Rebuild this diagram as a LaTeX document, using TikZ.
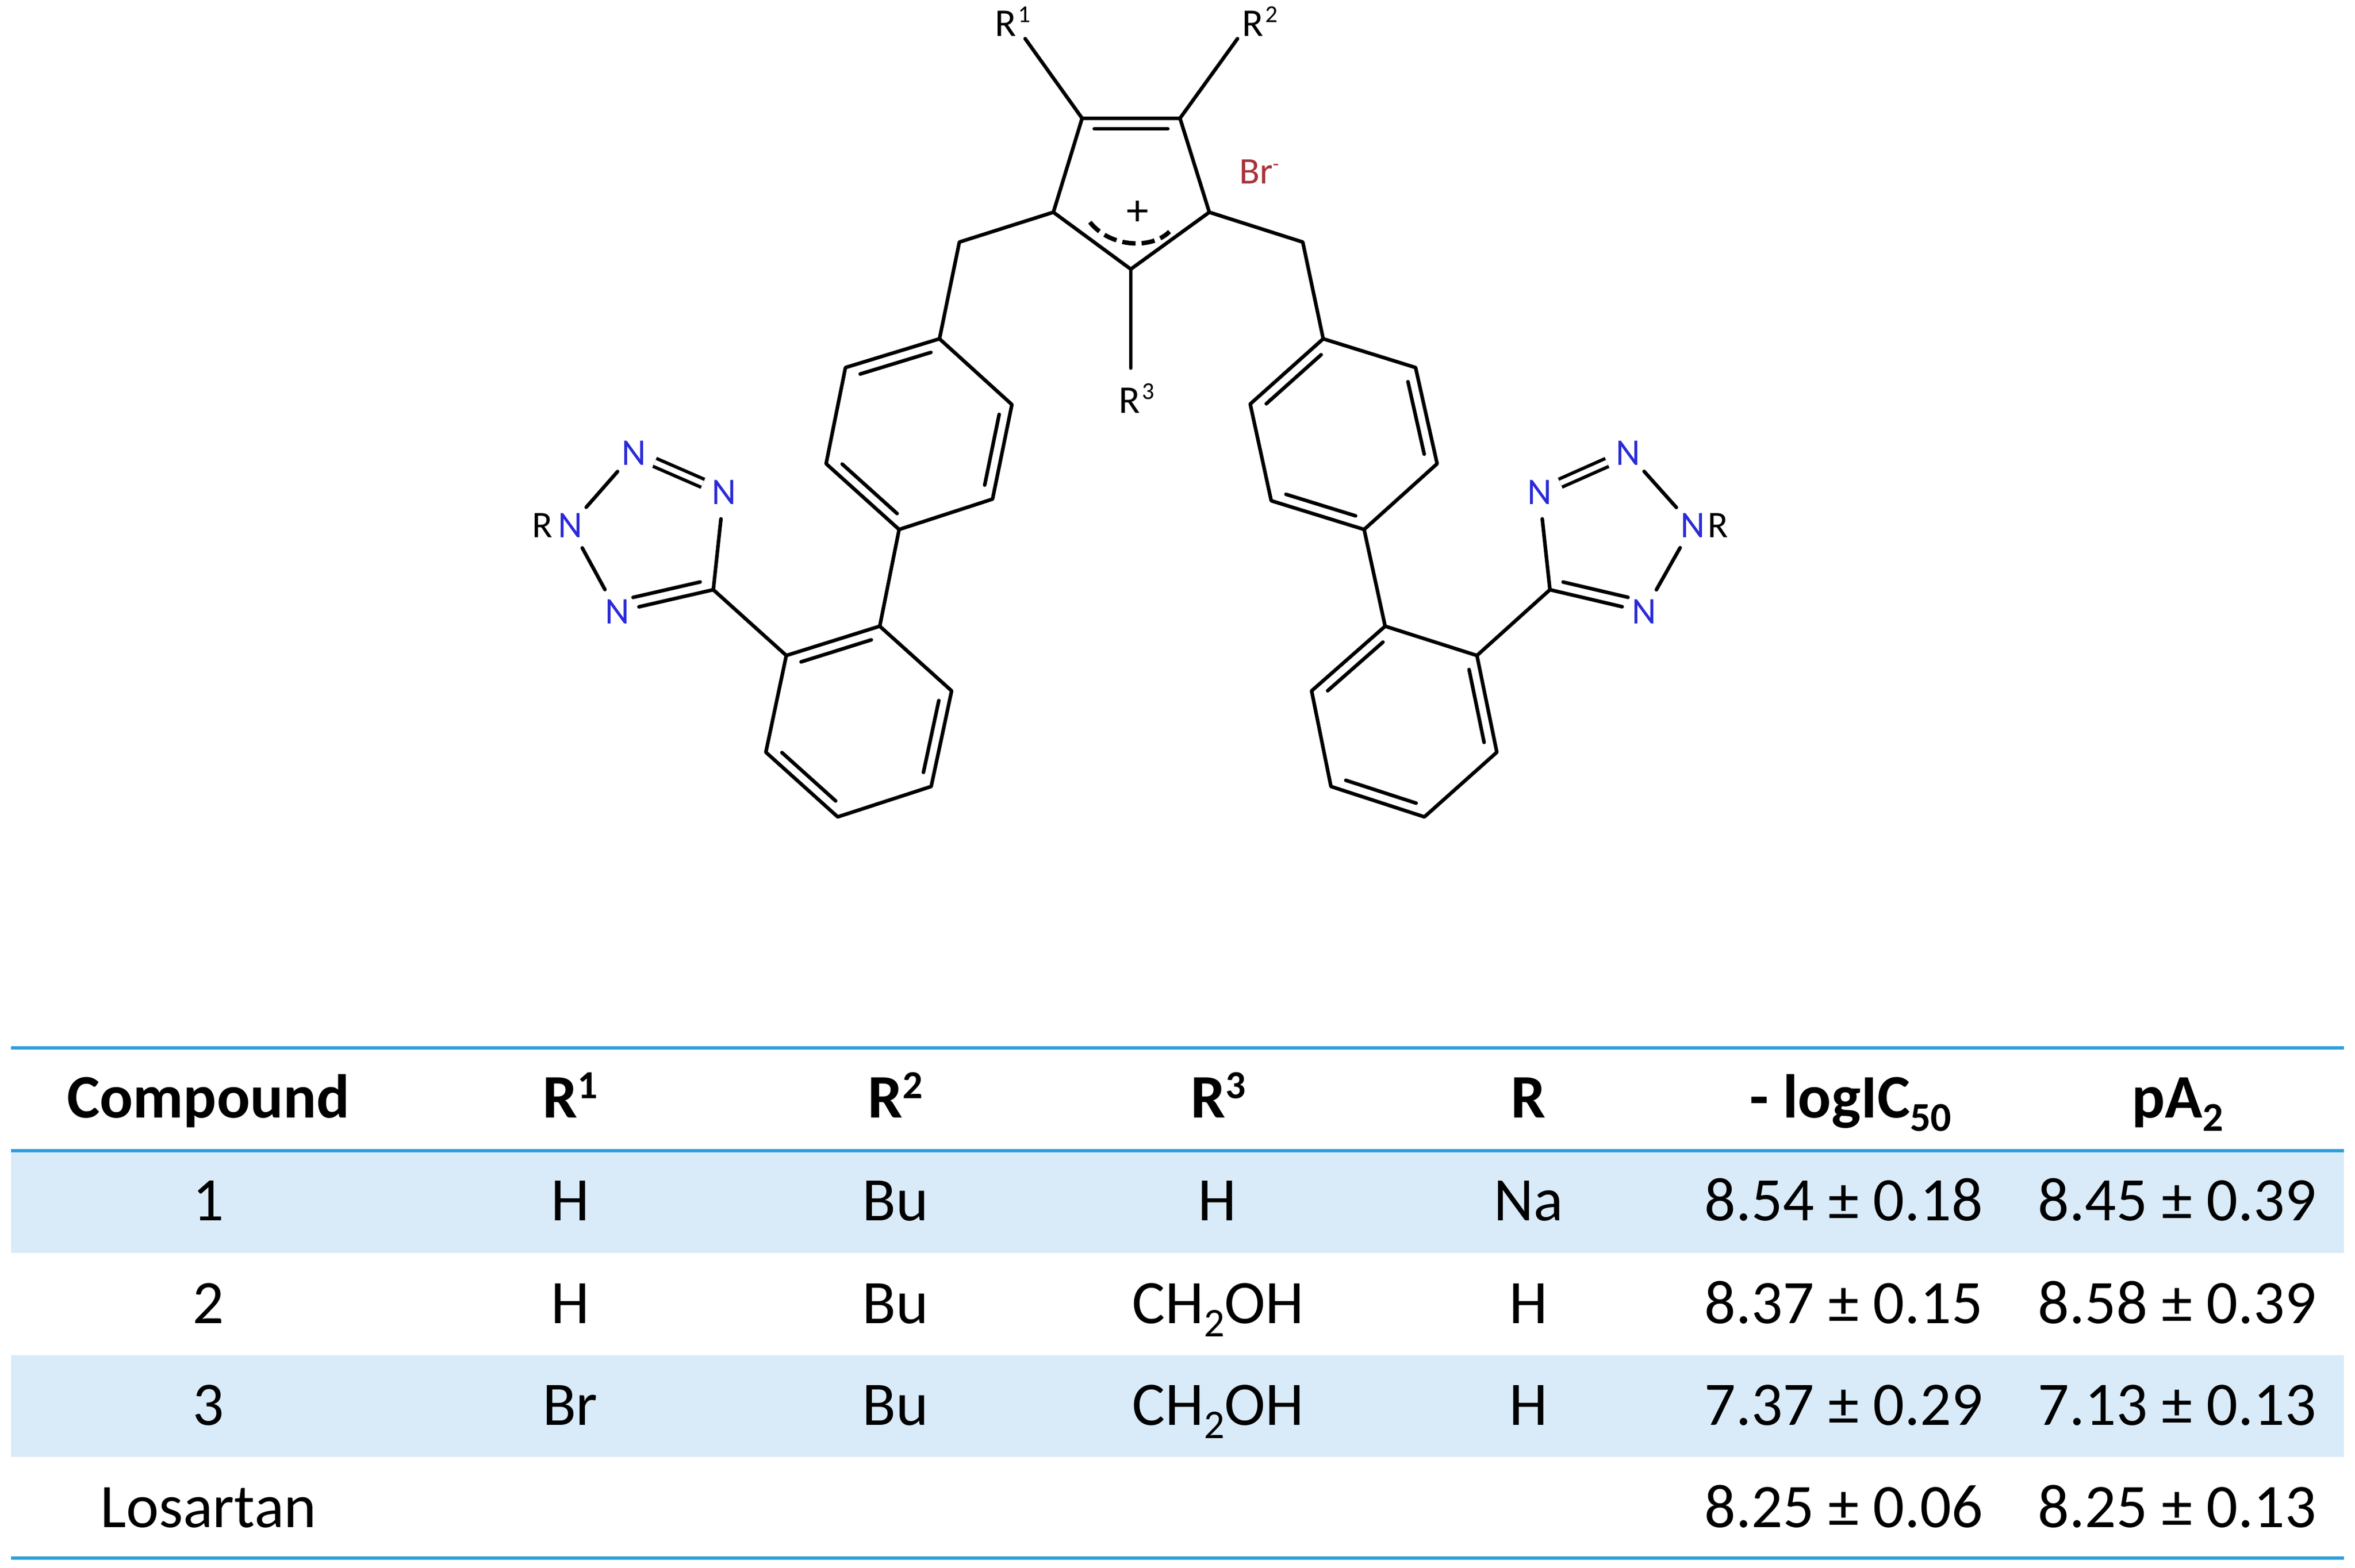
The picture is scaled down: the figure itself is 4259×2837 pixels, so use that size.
\documentclass[tikz,border=0pt]{standalone}
\usepackage{fontspec}
\usepackage{xcolor}
\usetikzlibrary{calc,shapes.geometric}
\setmainfont{Carlito}
\definecolor{ruleblue}{HTML}{2E9FDC}
\definecolor{rowblue}{HTML}{D9EBF9}
\definecolor{nitrogen}{HTML}{2A2AD8}
\definecolor{bromide}{HTML}{A8333A}

\newcommand\chemsup[1]{\kern4pt\raisebox{25pt}{\fontsize{44}{46}\selectfont #1}}
\newcommand\headsup[1]{\raisebox{35pt}{\fontsize{72}{74}\selectfont #1}}
\newcommand\lowidx[1]{\raisebox{-24pt}{\fontsize{74}{76}\selectfont #1}}
% inner line of a double bond, on the left of the way a -> b
\newcommand\innerbond[3][]{\draw[innerline,#1] ($(#2)!19pt!90:(#3)$) -- ($(#3)!19pt!-90:(#2)$);}

\begin{document}
\begin{tikzpicture}[x=1pt,y=-1pt,node distance=48pt,
    bond/.style={line width=6.5pt,line cap=round,line join=round},
    innerline/.style={bond,shorten <=22pt,shorten >=22pt},
    twobond/.style={line width=6pt,double,double distance=9.5pt},
    natom/.style={ellipse,inner sep=0pt,minimum width=80pt,minimum height=96pt,text=nitrogen,font=\fontsize{68}{70}\selectfont},
    rgroup/.style={inner sep=0pt,anchor=base west,font=\fontsize{71}{73}\selectfont},
    rsub/.style={inner sep=0pt,font=\fontsize{68}{70}\selectfont},
    cell/.style={anchor=base,inner sep=0pt,font=\fontsize{112}{120}\selectfont},
    head/.style={cell,font=\fontsize{112}{120}\selectfont\bfseries},
    tabrule/.style={ruleblue,line width=5.5pt},
    shade/.style={fill=rowblue}]

    \useasboundingbox (0,0) rectangle (4259,2837);

    % table
    \coordinate (s1a) at (20,2081);
    \coordinate (s1b) at (4239,2267);
    \coordinate (s3a) at (20,2452);
    \coordinate (s3b) at (4239,2636);
    \fill[shade] (s1a) rectangle (s1b);
    \fill[shade] (s3a) rectangle (s3b);

    \coordinate (t1a) at (20,1896);
    \coordinate (t1b) at (4239,1896);
    \coordinate (t2a) at (20,2082);
    \coordinate (t2b) at (4239,2082);
    \coordinate (t3a) at (20,2819);
    \coordinate (t3b) at (4239,2819);
    \draw[tabrule] (t1a) -- (t1b);
    \draw[tabrule] (t2a) -- (t2b);
    \draw[tabrule] (t3a) -- (t3b);

    \node[head] (h1) at (377,2022) {Compound};
    \node[head] (h2) at (1031,2022) {R\headsup{1}};
    \node[head] (h3) at (1619,2022) {R\headsup{2}};
    \node[head] (h4) at (2203,2022) {R\headsup{3}};
    \node[head] (h5) at (2764,2022) {R};
    \node[head] (h6) at (3347,2022) {- logIC\lowidx{50}};
    \node[head] (h7) at (3938,2022) {pA\lowidx{2}};

    \node[cell] (a1) at (377,2208) {1};
    \node[cell] (a2) at (1031,2208) {H};
    \node[cell] (a3) at (1619,2208) {Bu};
    \node[cell] (a4) at (2201,2208) {H};
    \node[cell] (a5) at (2764,2208) {Na};
    \node[cell] (a6) at (3334,2208) {8.54 ± 0.18};
    \node[cell] (a7) at (3937,2208) {8.45 ± 0.39};

    \node[cell] (b1) at (377,2394) {2};
    \node[cell] (b2) at (1031,2394) {H};
    \node[cell] (b3) at (1619,2394) {Bu};
    \node[cell] (b4) at (2203,2394) {CH\lowidx{2}OH};
    \node[cell] (b5) at (2764,2394) {H};
    \node[cell] (b6) at (3334,2394) {8.37 ± 0.15};
    \node[cell] (b7) at (3937,2394) {8.58 ± 0.39};

    \node[cell] (c1) at (377,2578) {3};
    \node[cell] (c2) at (1031,2578) {Br};
    \node[cell] (c3) at (1619,2578) {Bu};
    \node[cell] (c4) at (2203,2578) {CH\lowidx{2}OH};
    \node[cell] (c5) at (2764,2578) {H};
    \node[cell] (c6) at (3334,2578) {7.37 ± 0.29};
    \node[cell] (c7) at (3937,2578) {7.13 ± 0.13};

    \node[cell] (d1) at (377,2763) {Losartan};
    \node[cell] (d6) at (3334,2763) {8.25 ± 0.06};
    \node[cell] (d7) at (3937,2763) {8.25 ± 0.13};

    % five-membered ring
    \coordinate (pa) at (1957,214);
    \coordinate (pb) at (2134,214);
    \coordinate (pc) at (2187,384);
    \coordinate (pd) at (2045,487);
    \coordinate (pe) at (1905,384);
    \coordinate (lch) at (1735,438);
    \coordinate (rch) at (2356,438);
    \coordinate (r1end) at (1854,70);
    \coordinate (r2end) at (2238,70);
    \coordinate (r3end) at (2045,666);

    \node[rgroup] (r1) at (1799,66) {R\chemsup{1}};
    \node[rgroup] (r2) at (2246,66) {R\chemsup{2}};
    \node[rgroup] (r3) at (2023,747) {R\chemsup{3}};
    \node[rsub,text=bromide,anchor=base west] (br) at (2241,332) {Br\raisebox{24pt}{\fontsize{36}{38}\selectfont -}};
    \node[rsub,font=\fontsize{80}{82}\selectfont] (plus) at (2057,386) {+};
    \coordinate (arcl) at (1971,402);
    \coordinate (arcr) at (2115,419);

    \draw[bond] (pa) -- (pb) -- (pc) -- (pd) -- (pe) -- cycle;
    \innerbond{pb}{pa}
    \draw[bond] (r1end) -- (pa);
    \draw[bond] (r2end) -- (pb);
    \draw[bond] (pd) -- (r3end);
    \draw[line width=8pt,dash pattern=on 24pt off 11pt] (arcl) .. controls (2010,450) and (2085,450) .. (arcr);

    % left biphenyl
    \coordinate (ua) at (1699,613);
    \coordinate (ub) at (1830,732);
    \coordinate (uc) at (1795,903);
    \coordinate (ud) at (1626,958);
    \coordinate (ue) at (1494,839);
    \coordinate (uf) at (1529,665);
    \coordinate (ma) at (1591,1133);
    \coordinate (mb) at (1721,1250);
    \coordinate (mc) at (1684,1423);
    \coordinate (md) at (1515,1478);
    \coordinate (me) at (1385,1361);
    \coordinate (mf) at (1422,1186);

    \draw[bond] (pe) -- (lch) -- (ua);
    \draw[bond] (ua) -- (ub) -- (uc) -- (ud) -- (ue) -- (uf) -- cycle;
    \innerbond{ua}{uf}
    \innerbond{ue}{ud}
    \innerbond{uc}{ub}
    \draw[bond] (ud) -- (ma);
    \draw[bond] (ma) -- (mb) -- (mc) -- (md) -- (me) -- (mf) -- cycle;
    \innerbond{ma}{mf}
    \innerbond{me}{md}
    \innerbond{mc}{mb}

    % right biphenyl
    \coordinate (ra) at (2393,613);
    \coordinate (rb) at (2560,665);
    \coordinate (rc) at (2599,839);
    \coordinate (rd) at (2467,958);
    \coordinate (re) at (2299,906);
    \coordinate (rf) at (2261,731);
    \coordinate (la) at (2505,1133);
    \coordinate (lb) at (2671,1186);
    \coordinate (lc) at (2707,1361);
    \coordinate (ld) at (2576,1478);
    \coordinate (le) at (2407,1423);
    \coordinate (lf) at (2372,1250);

    \draw[bond] (pc) -- (rch) -- (ra);
    \draw[bond] (ra) -- (rb) -- (rc) -- (rd) -- (re) -- (rf) -- cycle;
    \innerbond{ra}{rf}
    \innerbond{re}{rd}
    \innerbond{rc}{rb}
    \draw[bond] (rd) -- (la);
    \draw[bond] (la) -- (lb) -- (lc) -- (ld) -- (le) -- (lf) -- cycle;
    \innerbond{la}{lf}
    \innerbond{le}{ld}
    \innerbond{lc}{lb}

    % left tetrazole
    \coordinate (tc) at (1290,1067);
    \node[natom] (nt) at (1146,820) {N};
    \node[natom] (nr) at (1309,891) {N};
    \node[natom] (nl) at (1031,951) {N};
    \node[natom] (nb) at (1116,1107) {N};
    \node[rsub] (rl) [left of=nl,node distance=50pt] {R};

    \draw[bond] (mf) -- (tc);
    \draw[bond] (tc) -- (nr);
    \draw[twobond] (nt) -- (nr);
    \draw[bond] (nt) -- (nl);
    \draw[bond] (nl) -- (nb);
    \draw[bond] (nb) -- (tc);
    \innerbond[shorten <=34pt,shorten >=20pt]{nb}{tc}

    % right tetrazole
    \coordinate (tr) at (2803,1067);
    \node[natom] (mt) at (2944,820) {N};
    \node[natom] (ml) at (2784,891) {N};
    \node[natom] (mr) at (3061,951) {N};
    \node[natom] (mb2) at (2973,1107) {N};
    \node[rsub] (rr) [right of=mr,node distance=46pt] {R};

    \draw[bond] (lb) -- (tr);
    \draw[bond] (tr) -- (ml);
    \draw[twobond] (ml) -- (mt);
    \draw[bond] (mt) -- (mr);
    \draw[bond] (mr) -- (mb2);
    \draw[bond] (mb2) -- (tr);
    \innerbond[shorten <=20pt,shorten >=34pt]{tr}{mb2}
\end{tikzpicture}
\end{document}
